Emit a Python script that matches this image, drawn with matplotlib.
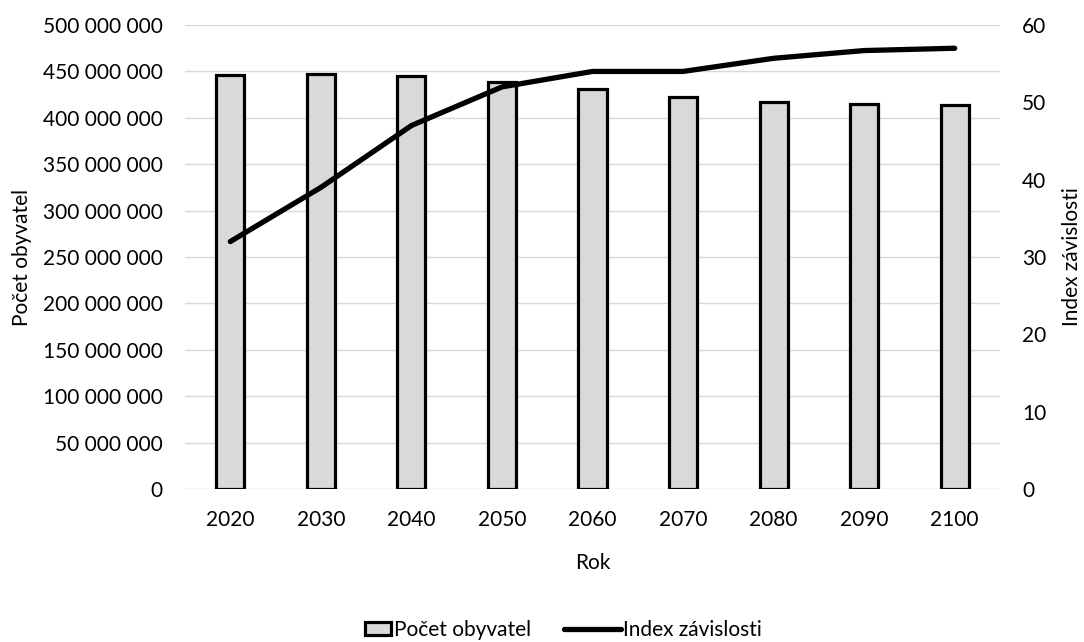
import matplotlib.pyplot as plt
import matplotlib.ticker as mticker
from matplotlib.patches import Rectangle
from matplotlib.legend_handler import HandlerPatch
import numpy as np

plt.rcParams['font.family'] = ['Lato', 'DejaVu Sans']

years = ["2020", "2030", "2040", "2050", "2060", "2070", "2080", "2090", "2100"]
population = [446.5e6, 447.5e6, 445.5e6, 439e6, 431e6, 422.5e6, 417.5e6, 415e6, 414e6]
dependency = [32, 39, 47, 52, 54, 54, 55.7, 56.7, 57]

x = np.arange(len(years))

fig = plt.figure(figsize=(10.84, 6.42), dpi=100)
ax = fig.add_axes([0.1707, 0.2383, 0.7518, 0.7227])
ax2 = ax.twinx()

bars = ax.bar(x, population, width=0.31, color="#d9d9d9", edgecolor="black",
              linewidth=2.3, zorder=2)
line, = ax2.plot(x, dependency, color="black", linewidth=3.8,
                 solid_capstyle="round", zorder=3)

ax.set_xlim(-0.5, len(years) - 0.5)
ax.set_ylim(0, 500e6)
ax.set_yticks(np.arange(0, 500e6 + 1, 50e6))
ax.yaxis.set_major_formatter(mticker.FuncFormatter(
    lambda v, p: f"{int(v):,}".replace(",", " ")))
ax2.set_ylim(0, 60)
ax2.set_yticks(np.arange(0, 61, 10))

ax.set_xticks(x)
ax.set_xticklabels(years)
ax.grid(axis="y", color="#d9d9d9", linewidth=1, zorder=0)
ax.set_axisbelow(True)

for a in (ax, ax2):
    for s in a.spines.values():
        s.set_visible(False)
    a.tick_params(length=0, labelsize=15, colors="#000000")
ax.tick_params(axis="y", pad=16)
ax.tick_params(axis="x", pad=15)
ax2.tick_params(axis="y", pad=16)

ax.set_xlabel("Rok", fontsize=15, labelpad=17)
ax.set_ylabel("Počet obyvatel", fontsize=15, labelpad=8)
ax2.set_ylabel("Index závislosti", fontsize=15, labelpad=11)


# small box for the bar entry, like the spreadsheet legend
def small_box(legend, orig_handle, xdescent, ydescent, width, height, fontsize):
    pw = width * 0.45
    ph = height * 0.9
    return Rectangle((-xdescent + width - pw, -ydescent + (height - ph) / 2), pw, ph)


bar_handle = bars.patches[0]
fig.legend(handles=[bar_handle, line], labels=["Počet obyvatel", "Index závislosti"],
           loc="center", bbox_to_anchor=(0.5055, 0.019),
           ncol=2, frameon=False, fontsize=15, handlelength=2.74,
           handletextpad=0.12, columnspacing=1.57,
           handler_map={bar_handle: HandlerPatch(patch_func=small_box)})

fig.savefig("out.png", dpi=100)
